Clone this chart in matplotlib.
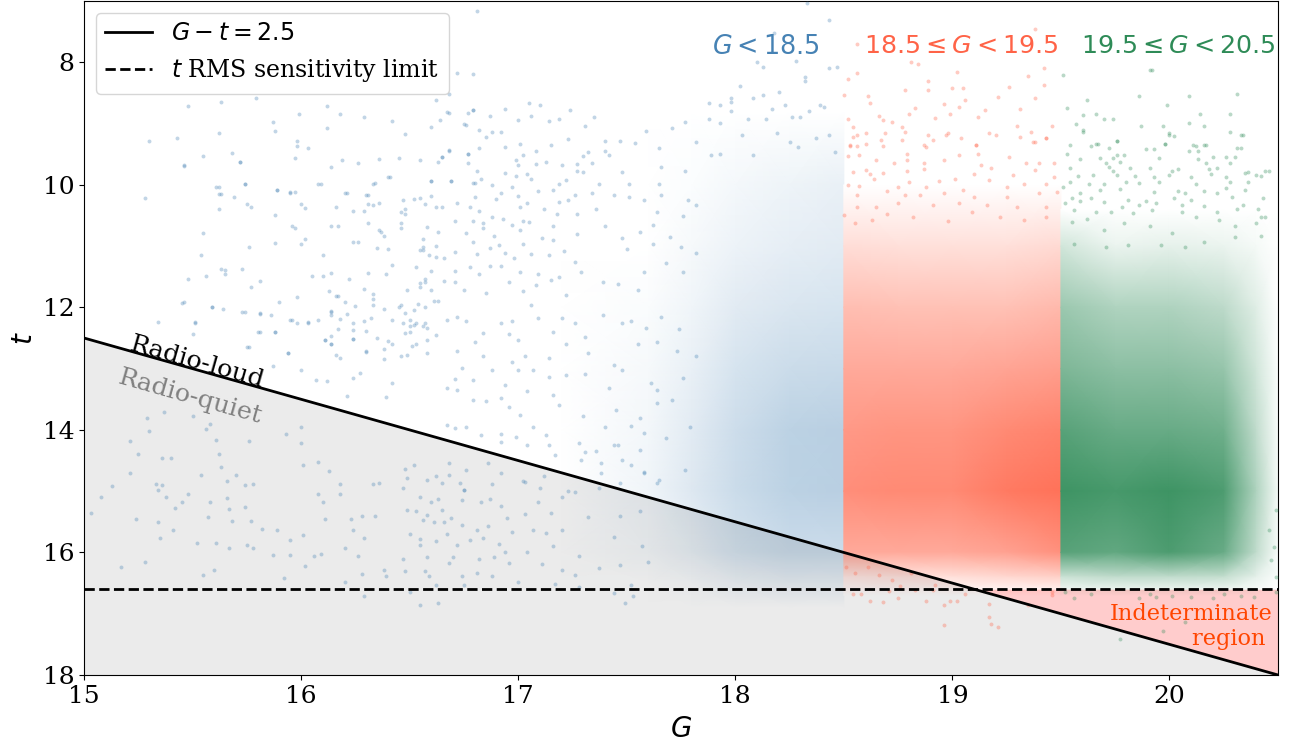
#!/usr/bin/python3
import matplotlib
matplotlib.use("Agg")
import matplotlib.pyplot as plt
from matplotlib.colors import LinearSegmentedColormap
import numpy as np

plt.rcParams['font.family'] = 'DejaVu Serif'
plt.rcParams['mathtext.fontset'] = 'dejavusans'

BLUE = '#4682b4'
RED = '#ff6347'
GREEN = '#2e8b57'

# limits of the two reference lines
line_G = [15, 20.5]
line_offset = 2.5
rms_limit = 16.6

# single points (only the sparse ones can be told apart)
blue_G = [15.03, 15.08, 15.13, 15.21, 15.21, 15.25, 15.29, 15.30, 15.37, 15.50, 15.58, 15.56, 15.61, 15.76, 15.62, 15.63,
          15.36, 15.40, 15.54, 15.33, 15.36, 15.34, 15.38, 15.48, 15.45, 15.42, 15.24, 15.34, 15.41, 15.35, 15.17, 15.28,
          15.55, 15.60, 15.52, 15.61, 15.67, 15.75, 15.78, 15.70, 15.66, 15.74, 15.78, 15.66, 15.58, 15.67, 15.74, 15.57,
          15.68, 15.77, 15.82, 15.89, 15.95, 16.01, 15.87, 15.95, 16.06, 16.02, 15.92, 16.28, 16.29, 16.20, 16.38, 16.39,
          15.93, 16.00, 16.00, 16.01, 16.08, 16.13, 16.18, 16.33, 16.36, 16.08, 16.10, 16.18, 16.23, 16.28, 16.34, 16.11,
          16.24, 16.29, 16.20, 16.26, 16.09, 15.34, 15.51, 15.46, 15.59, 15.74, 15.81, 15.81, 15.88, 15.94, 15.76, 15.87,
          16.00, 15.96, 16.03, 16.14, 16.11, 16.14, 16.07, 16.12, 16.21, 16.24, 16.27, 16.39, 16.42, 16.24, 16.38, 16.18,
          16.30, 15.30, 15.43, 15.55, 15.46, 15.48, 15.63, 15.79, 15.62, 15.68, 15.72, 15.87, 15.88, 15.99, 16.12, 16.18,
          16.29, 16.42, 16.12, 16.48, 15.98, 15.98, 16.03, 15.97, 16.19, 16.14, 16.26, 16.36, 16.45, 16.55, 16.41, 16.34,
          16.60, 16.69, 16.09, 15.74, 15.62, 15.63, 15.89, 15.95, 16.21, 16.31, 15.28, 16.81, 16.79, 16.72, 16.68, 16.62,
          16.67, 16.77, 16.79, 16.60, 16.64, 16.75, 16.68, 16.77, 16.65, 16.63, 16.80, 18.33, 18.43, 18.18, 18.10, 18.13,
          18.28, 18.43, 18.47, 18.32, 18.32, 18.02, 18.20, 18.13, 17.98, 17.98, 17.88, 18.08, 17.93, 17.98, 18.39, 18.41,
          18.17, 18.23, 18.14, 18.26, 18.30, 18.34, 18.06, 17.88, 17.93, 18.19, 18.37, 18.03, 18.25, 18.43, 18.46, 18.29,
          17.93, 17.89, 18.08,
          # G 16.65 - 17.8, t 8.7 - 11.8
          16.68, 16.79, 16.94, 16.87, 17.05, 17.10, 16.76, 16.82, 16.88, 16.92, 16.85, 17.00, 17.06, 17.14, 17.19, 17.24,
          17.31, 17.35, 16.68, 16.65, 16.77, 16.82, 16.77, 16.81, 16.94, 17.01, 17.02, 17.08, 17.15, 17.23, 17.30, 17.32,
          16.99, 17.00, 17.08, 17.13, 17.20, 17.27, 17.34, 17.40, 17.42, 17.40, 17.47, 17.54, 17.59, 17.65, 17.71, 17.77,
          17.82, 16.69, 16.79, 16.83, 16.88, 16.94, 16.99, 17.04, 17.06, 17.22, 17.19, 17.27, 17.30, 17.37, 17.48, 17.51,
          17.65, 17.66, 17.77, 16.80, 16.72, 16.65, 16.78, 16.82, 16.90, 16.92, 16.97, 17.00, 17.01, 17.04, 17.09, 17.16,
          17.12, 17.19, 17.23, 17.26, 17.34, 17.44, 17.51, 17.58, 17.66, 16.71, 16.79, 16.88, 16.93, 16.84, 16.84, 16.97,
          17.02, 17.05, 17.01, 17.16, 17.18, 17.27, 17.36, 16.76, 16.89, 16.79, 16.87, 16.91, 17.02, 17.11, 17.16, 17.27,
          17.21, 16.71, 16.66, 16.81, 16.94, 16.98, 17.06, 17.14, 17.26, 16.78, 16.71, 16.82, 16.87, 16.92, 17.01, 17.09,
          17.19, 17.29, 16.66, 16.71, 16.75, 16.85, 16.96, 17.02, 17.08, 17.15, 17.22, 17.39, 17.46, 17.55, 17.58, 17.68,
          17.76, 17.62, 17.56, 17.76, 17.48, 17.40, 17.70, 17.50, 17.62, 17.75, 17.82, 17.64, 17.78, 17.82,
          # G 16.65 - 17.8, t 12 - 15
          16.67, 16.72, 16.76, 16.84, 16.92, 16.97, 17.06, 17.09, 17.16, 17.20, 17.26, 17.31, 17.39, 17.48, 17.52, 17.59,
          17.66, 17.74, 16.72, 16.80, 16.84, 16.96, 17.00, 16.97, 17.03, 17.14, 17.22, 17.32, 17.44, 17.55, 17.64, 17.73,
          17.82, 16.74, 16.79, 16.71, 16.67, 16.72, 16.88, 16.79, 16.85, 16.92, 16.94, 17.04, 17.00, 17.07, 17.14, 17.22,
          17.31, 17.42, 17.48, 17.61, 17.64, 17.76, 17.16, 17.19, 17.30, 16.96, 17.01, 17.07, 16.67, 16.71, 16.76, 16.83,
          16.92, 16.99, 17.13, 17.14, 17.28, 17.40, 17.45, 17.52, 17.58, 17.68, 17.79, 17.56, 17.64, 17.71, 17.36, 17.48,
          17.58, 17.77, 17.44, 17.65, 16.68, 16.76, 16.86, 16.92, 16.88, 17.02, 16.75, 17.10, 17.23,
          # G 15.45 - 16.65, t 9.6 - 12.8
          15.46, 15.72, 15.61, 15.74, 15.62, 15.69, 15.62, 15.75, 15.77, 15.89, 15.95, 15.97, 16.08, 16.00, 16.02, 15.88,
          15.55, 15.96, 15.97, 15.88, 15.76, 15.54, 16.02, 16.00, 16.10, 15.63, 15.65, 15.65, 15.73, 15.48, 15.56, 15.81,
          15.77, 16.05, 16.10, 16.14, 16.22, 15.98, 15.90, 15.45, 15.59, 15.64, 15.73, 15.81, 15.86, 16.13, 16.16, 16.17,
          16.20, 16.25, 16.14, 16.14, 16.21, 16.18, 15.95, 15.98, 16.03, 16.08, 15.51, 15.50, 15.80, 15.88, 15.75, 15.94,
          16.11, 16.14, 16.14, 16.17, 16.24, 16.24, 16.30, 16.24, 16.29, 16.32, 16.38, 16.33, 16.33, 16.33, 16.29, 16.31,
          16.39, 16.42, 16.35, 16.40, 16.24, 16.26, 16.14, 16.17, 16.31, 16.36, 16.37, 16.38, 16.16, 16.24, 16.29, 16.31,
          16.33, 16.36, 16.20, 16.30, 16.33, 16.40, 16.47, 16.52, 16.55, 16.57, 16.60, 16.60, 16.62, 16.46, 16.48, 16.48,
          16.46, 16.46, 16.58, 16.63, 16.56, 16.56, 16.55, 16.56, 16.62, 16.59, 16.62, 16.53, 16.60, 16.57, 16.55, 16.57,
          16.55, 16.60, 16.49, 16.61, 16.63, 16.54, 16.46, 16.45, 16.57, 16.52, 16.48, 16.42, 16.47, 16.50, 16.50, 16.52,
          16.53, 16.57, 16.56, 16.58, 16.48, 16.50, 16.58, 16.62, 16.35, 16.40, 16.42, 16.38, 16.30, 16.16, 16.51, 16.53,
          16.46, 16.49, 16.58,
          # G 16.45 - 17.65, t 14.2 - 16.9
          16.48, 16.52, 16.49, 16.47, 16.58, 16.62, 16.65, 16.68, 16.73, 16.75, 16.55, 16.60, 16.63, 16.49, 16.53, 16.58,
          16.65, 16.69, 16.74, 16.83, 16.87, 16.92, 16.56, 16.61, 16.66, 16.74, 16.81, 16.86, 16.95, 17.03, 16.50, 16.55,
          16.62, 16.67, 16.72, 16.78, 16.84, 16.91, 16.97, 17.07, 17.13, 17.20, 16.55, 16.58, 16.70, 16.82, 16.89, 16.94,
          17.04, 17.16, 17.28, 16.47, 16.48, 16.57, 16.59, 16.68, 16.74, 16.81, 16.88, 16.96, 17.11, 17.20, 17.26, 17.37,
          17.47, 17.57, 17.60, 17.47, 17.56, 17.44, 17.32, 17.37, 17.15, 17.20, 17.09, 17.03, 17.12, 17.26, 16.55, 16.63,
          17.49, 17.53, 17.44, 16.50, 16.62, 16.75, 17.00, 17.17, 17.28, 17.52, 16.92, 17.04, 17.17, 17.29, 17.38, 17.46,
          17.56, 17.52, 17.58, 17.64, 17.38, 17.47, 17.31]
blue_t = [15.36, 15.10, 14.92, 14.70, 14.18, 14.39, 13.80, 14.02, 13.71, 13.78, 13.90, 13.98, 14.16, 14.18, 14.39, 14.61,
          14.46, 14.46, 14.74, 14.88, 14.90, 14.98, 15.09, 15.04, 15.17, 15.28, 15.46, 15.50, 15.63, 15.76, 16.24, 16.16,
          16.36, 16.28, 15.84, 15.84, 15.92, 15.88, 15.92, 14.73, 14.84, 14.90, 14.88, 15.11, 15.17, 15.29, 15.26, 15.42,
          15.48, 15.48, 15.61, 15.63, 15.79, 15.72, 16.04, 16.04, 16.06, 16.22, 16.42, 16.35, 16.71, 16.48, 16.28, 16.38,
          14.06, 13.95, 14.22, 14.57, 14.53, 14.67, 14.89, 14.89, 14.86, 15.05, 15.18, 15.05, 15.46, 15.41, 15.40, 15.46,
          15.63, 15.76, 15.92, 16.06, 16.03, 12.24, 12.24, 11.92, 12.00, 12.08, 12.10, 12.40, 12.40, 12.74, 12.64, 12.95,
          13.02, 12.20, 12.24, 12.07, 12.53, 12.59, 13.18, 13.20, 13.45, 13.16, 13.07, 13.47, 13.23, 12.52, 12.85, 12.83,
          12.72, 9.29, 9.23, 9.53, 9.68, 8.71, 8.65, 8.59, 9.15, 9.48, 9.63, 8.97, 9.12, 8.85, 8.71, 8.85,
          8.90, 8.96, 9.07, 9.17, 9.29, 9.37, 9.40, 9.57, 9.59, 9.71, 9.64, 9.58, 9.57, 9.59, 9.88, 9.97,
          9.93, 9.93, 9.98, 9.99, 10.03, 10.15, 10.09, 10.12, 10.14, 10.17, 10.22, 7.16, 8.19, 8.17, 8.52, 8.62,
          8.81, 8.82, 8.78, 9.05, 8.94, 9.01, 9.43, 9.49, 9.55, 9.62, 9.97, 7.03, 7.31, 7.53, 8.00, 8.08,
          7.98, 8.10, 8.07, 8.24, 8.31, 8.38, 8.49, 8.54, 8.59, 8.65, 8.67, 8.59, 8.70, 8.80, 8.70, 8.73,
          8.77, 8.69, 8.92, 8.89, 8.90, 8.80, 8.92, 8.93, 8.99, 9.15, 9.23, 9.19, 9.30, 9.19, 9.46, 9.38,
          9.50, 9.52, 9.52,
          8.82, 8.78, 8.76, 8.88, 8.66, 8.69, 9.02, 9.10, 9.14, 9.13, 9.22, 8.95, 8.88, 8.96, 8.93, 8.78,
          9.04, 8.90, 9.44, 9.55, 9.49, 9.40, 9.64, 9.77, 9.39, 9.34, 9.52, 9.44, 9.35, 9.26, 9.53, 9.47,
          9.59, 9.67, 9.66, 9.62, 9.67, 9.66, 9.65, 9.45, 9.52, 9.29, 9.28, 9.31, 9.12, 9.40, 9.08, 8.97,
          9.30, 9.93, 9.97, 9.91, 10.01, 9.80, 9.85, 9.83, 9.91, 9.92, 9.98, 9.77, 9.79, 9.99, 9.79, 9.99,
          9.99, 9.71, 9.78, 10.20, 10.29, 10.36, 10.36, 10.43, 10.23, 10.13, 10.04, 10.18, 10.36, 10.29, 10.10, 10.09,
          10.39, 10.28, 10.25, 10.16, 10.13, 10.17, 10.20, 10.25, 10.17, 10.59, 10.59, 10.52, 10.55, 10.63, 10.70, 10.66,
          10.59, 10.61, 10.73, 10.67, 10.47, 10.48, 10.40, 10.79, 10.83, 10.94, 11.03, 10.99, 10.97, 10.86, 10.90, 10.81,
          11.08, 11.09, 11.20, 11.13, 11.12, 11.19, 11.13, 11.14, 11.26, 11.34, 11.40, 11.46, 11.32, 11.32, 11.43, 11.45,
          11.51, 11.42, 11.57, 11.59, 11.72, 11.77, 11.58, 11.74, 11.64, 11.55, 11.80, 11.58, 11.62, 11.71, 11.42, 11.28,
          11.42, 10.66, 10.77, 10.51, 10.86, 10.67, 10.85, 11.04, 10.96, 11.01, 11.12, 10.44, 10.25, 10.33,
          12.21, 12.15, 12.23, 12.42, 12.26, 12.22, 11.96, 12.18, 12.41, 12.18, 12.26, 12.48, 12.12, 12.25, 12.23, 12.34,
          12.15, 12.36, 12.72, 12.56, 12.80, 12.43, 12.54, 12.89, 12.80, 12.83, 12.59, 12.75, 12.94, 12.59, 12.56, 12.72,
          12.80, 12.99, 13.18, 13.17, 13.32, 13.35, 13.03, 13.51, 13.53, 13.48, 13.27, 13.37, 13.03, 13.03, 13.14, 13.10,
          13.09, 13.32, 13.03, 13.24, 13.35, 13.16, 13.43, 13.59, 13.78, 13.62, 13.76, 13.95, 13.92, 13.97, 13.95, 14.08,
          14.07, 14.12, 14.08, 14.24, 14.22, 13.96, 13.67, 13.93, 14.05, 14.14, 13.95, 13.81, 13.56, 13.51, 14.34, 14.49,
          14.68, 14.65, 14.24, 14.81, 14.54, 14.65, 14.54, 14.71, 14.88, 14.84, 14.98, 14.95, 15.00,
          9.69, 9.63, 10.03, 9.99, 10.15, 10.20, 10.40, 10.32, 10.37, 10.09, 10.13, 10.12, 9.98, 10.31, 10.38, 10.50,
          10.78, 10.68, 10.71, 10.95, 11.02, 11.14, 10.89, 10.97, 11.14, 11.38, 11.39, 11.45, 11.37, 11.53, 11.48, 11.57,
          11.67, 11.49, 11.49, 11.44, 11.54, 11.83, 11.92, 11.93, 12.00, 12.02, 12.08, 12.11, 12.12, 11.73, 11.82, 11.82,
          11.91, 11.97, 12.06, 12.12, 12.11, 12.19, 12.20, 12.25, 12.25, 12.20, 12.25, 12.43, 12.41, 12.41, 12.64, 12.75,
          12.53, 12.47, 12.60, 12.36, 12.37, 12.51, 12.39, 12.26, 12.22, 12.17, 12.02, 11.87, 11.79, 11.96, 11.70, 11.44,
          11.45, 11.31, 11.03, 11.04, 10.93, 10.94, 10.68, 10.67, 10.62, 10.73, 10.77, 10.83, 10.36, 10.42, 10.43, 10.31,
          10.33, 10.30, 10.14, 10.16, 9.98, 9.88, 10.24, 10.23, 10.21, 10.32, 9.93, 10.19, 10.37, 10.45, 10.40, 10.48,
          10.62, 10.70, 10.69, 10.77, 10.88, 11.01, 11.06, 11.07, 11.00, 11.14, 11.17, 11.34, 11.41, 11.53, 11.60, 11.59,
          11.67, 11.71, 11.72, 11.89, 11.90, 11.95, 11.96, 11.99, 12.00, 12.05, 12.10, 12.21, 12.26, 12.21, 12.31, 12.28,
          12.26, 12.26, 12.30, 12.34, 12.42, 12.40, 12.53, 12.45, 12.50, 12.55, 12.60, 12.68, 12.73, 12.78, 12.63, 12.60,
          12.79, 12.78, 12.74,
          14.64, 14.57, 14.79, 14.95, 14.81, 14.76, 14.87, 14.74, 14.87, 14.98, 15.09, 15.17, 15.12, 15.31, 15.32, 15.39,
          15.31, 15.43, 15.14, 15.17, 15.12, 15.25, 15.47, 15.51, 15.50, 15.56, 15.63, 15.57, 15.44, 15.37, 15.70, 15.78,
          15.81, 15.70, 15.88, 15.80, 15.77, 15.87, 15.66, 15.64, 15.69, 15.63, 15.88, 16.08, 16.07, 16.11, 16.07, 15.99,
          16.00, 15.89, 16.06, 16.10, 16.30, 16.30, 16.38, 16.17, 16.38, 16.33, 16.38, 16.18, 16.19, 16.29, 16.37, 16.26,
          16.20, 15.90, 16.15, 15.41, 15.32, 15.74, 15.42, 14.95, 15.36, 15.09, 15.17, 14.85, 14.75, 15.01, 16.86, 16.83,
          16.83, 16.71, 16.66, 16.64, 16.53, 16.53, 16.49, 16.51, 16.56, 16.53, 14.19, 14.25, 14.41, 14.49, 14.54, 14.25,
          14.33, 14.57, 14.71, 14.87, 14.71, 14.87, 14.36]

red_G = [19.38, 18.56, 18.81, 18.84, 19.02, 19.42, 18.56, 18.52, 18.89, 19.35, 19.42, 18.78, 18.89, 19.00, 19.05, 19.26,
         19.38, 18.50, 18.61, 18.62, 19.21, 19.06, 18.96, 19.03, 18.83, 19.31, 19.15, 18.66, 18.80, 18.92, 18.99, 19.12,
         18.52, 18.68, 18.72, 19.46, 19.30, 19.36, 19.20, 18.98, 18.54, 18.56, 18.77, 19.43, 19.38, 19.11, 18.91, 18.68,
         18.53, 18.56, 18.88, 18.79, 18.96, 19.17, 19.18, 19.21, 19.17, 18.96, 18.99, 19.02, 19.06, 18.62, 18.68, 18.75,
         18.88, 18.54, 18.58, 18.71, 18.83, 18.91, 19.35, 19.46, 19.46, 18.51, 18.55, 18.61, 18.66, 18.72, 18.76, 18.81,
         18.92,
         # t 9.1 - 10.6
         18.60, 18.69, 18.78, 18.54, 18.53, 18.60, 18.67, 18.77, 18.87, 18.89, 18.97, 19.04, 19.11, 19.17, 19.31, 19.37,
         19.43, 18.52, 18.57, 18.65, 18.73, 18.79, 18.87, 18.96, 19.03, 19.12, 19.13, 19.26, 19.34, 19.40, 19.47, 18.54,
         18.60, 18.62, 18.68, 18.79, 18.87, 18.94, 19.01, 19.10, 19.18, 19.28, 19.38, 19.47, 18.52, 18.57, 18.64, 18.75,
         18.80, 18.88, 19.05, 19.17, 19.25, 19.33, 19.43, 18.56, 18.70, 18.78, 18.85, 18.96, 19.10, 19.25, 19.40, 19.48,
         18.56, 18.65, 18.75, 18.91, 19.03, 19.16, 19.30, 19.43, 18.50, 18.55, 18.63, 18.70, 18.82, 18.98, 19.09, 19.22,
         19.33, 19.43]
red_t = [7.46, 7.70, 7.99, 8.03, 8.16, 8.10, 8.17, 8.27, 8.31, 8.22, 8.37, 8.45, 8.46, 8.42, 8.42, 8.41,
         8.59, 8.53, 8.55, 8.66, 8.57, 8.62, 8.68, 8.73, 8.74, 8.76, 8.78, 8.87, 8.85, 8.91, 8.85, 8.90,
         8.92, 8.95, 8.97, 9.04, 9.04, 9.14, 9.19, 9.16, 9.06, 9.19, 9.06, 9.23, 9.30, 9.35, 9.27, 9.37,
         9.36, 9.36, 9.39, 9.50, 17.19, 17.05, 17.16, 17.22, 16.84, 16.86, 16.79, 16.80, 16.68, 16.79, 16.81, 16.74,
         16.80, 16.68, 16.68, 16.63, 16.62, 16.62, 16.85, 16.70, 16.65, 16.24, 16.34, 16.23, 16.37, 16.45, 16.55, 16.34,
         16.53,
         9.15, 9.15, 9.14, 9.22, 9.35, 9.33, 9.27, 9.27, 9.35, 9.19, 9.19, 9.24, 9.35, 9.16, 9.22, 9.30,
         9.23, 9.53, 9.52, 9.60, 9.65, 9.60, 9.65, 9.60, 9.52, 9.50, 9.68, 9.54, 9.65, 9.65, 9.65, 9.79,
         9.76, 9.82, 9.81, 9.77, 9.75, 9.93, 9.90, 9.82, 9.73, 9.84, 9.76, 9.87, 10.00, 10.02, 9.90, 10.03,
         9.95, 10.03, 10.08, 9.92, 10.03, 9.98, 9.98, 10.17, 10.10, 10.17, 10.17, 10.14, 10.20, 10.20, 10.14, 10.11,
         10.36, 10.37, 10.30, 10.33, 10.29, 10.33, 10.36, 10.36, 10.50, 10.63, 10.57, 10.47, 10.53, 10.59, 10.44, 10.53,
         10.58, 10.53]

green_G = [19.91, 19.92, 19.51, 19.62, 19.53, 19.86, 19.99, 20.09, 20.31, 20.14, 20.28, 19.60, 19.66, 19.74, 19.70, 19.57,
           19.60, 19.87, 19.97, 20.09, 20.16, 20.00, 20.33, 19.76, 19.66, 19.98, 20.11, 20.16, 20.31, 20.44, 20.35, 20.40,
           20.42, 19.77, 19.97, 19.64, 19.56, 19.52, 19.86, 19.94, 20.01, 20.07, 20.10, 20.20, 20.25, 20.33, 20.39, 20.49,
           19.91, 20.49, 20.46, 20.48, 20.47, 20.49,
           # t 9.1 - 11
           19.60, 20.00, 20.02, 20.28, 20.34, 19.76, 19.98, 19.54, 19.64, 19.67, 19.72, 19.89, 19.93, 20.12, 20.17, 20.33,
           20.09, 20.13, 19.53, 19.59, 19.68, 19.76, 19.79, 19.74, 19.71, 19.72, 19.77, 19.95, 20.13, 20.20, 20.17, 20.26,
           20.30, 20.28, 19.54, 19.74, 19.82, 19.91, 20.04, 20.01, 20.18, 20.22, 20.46, 20.36, 20.42, 19.58, 19.65, 19.76,
           19.84, 19.93, 20.00, 20.10, 20.19, 20.26, 19.54, 19.63, 19.70, 19.80, 19.86, 19.95, 20.12, 20.28, 20.36, 19.51,
           19.59, 19.68, 19.77, 19.93, 20.04, 20.07, 20.16, 20.22, 20.26, 20.35, 20.43, 19.55, 19.64, 19.81, 19.89, 20.02,
           20.10, 20.29, 19.52, 19.59, 19.70, 19.78, 19.86, 19.94, 20.06, 20.16, 20.34, 20.41, 20.44, 19.56, 19.66, 19.73,
           19.83, 19.92, 20.06, 20.22, 20.31, 19.55, 19.62, 19.70, 19.79, 19.91, 20.01, 20.12, 20.23, 20.30, 20.40, 20.42,
           19.56, 19.71, 19.81, 19.96, 20.07, 20.16, 20.30]
green_t = [8.12, 8.12, 8.21, 8.61, 8.74, 8.55, 8.69, 8.55, 8.52, 8.85, 8.84, 8.86, 8.85, 8.93, 8.93, 9.01,
           9.10, 9.04, 9.04, 8.99, 9.04, 9.19, 9.19, 9.28, 9.34, 9.33, 9.35, 9.35, 9.40, 9.77, 9.80, 9.84,
           10.53, 17.42, 17.28, 16.67, 16.75, 16.65, 16.75, 16.72, 16.71, 17.13, 16.72, 16.75, 16.67, 16.71, 16.73, 16.65,
           16.67, 15.30, 15.64, 15.91, 16.13, 16.40,
           9.13, 9.16, 9.20, 9.13, 9.19, 9.28, 9.34, 9.35, 9.36, 9.34, 9.40, 9.42, 9.42, 9.36, 9.35, 9.40,
           9.45, 9.45, 9.50, 9.58, 9.57, 9.51, 9.52, 9.57, 9.64, 9.71, 9.63, 9.57, 9.58, 9.55, 9.64, 9.55,
           9.54, 9.64, 9.73, 9.77, 9.73, 9.72, 9.75, 9.78, 9.75, 9.73, 9.77, 9.79, 9.85, 9.85, 9.84, 9.84,
           9.86, 9.87, 9.84, 9.87, 9.82, 9.87, 9.95, 9.99, 9.98, 9.96, 9.97, 9.96, 9.98, 9.95, 9.96, 10.04,
           10.14, 10.09, 10.07, 10.11, 10.10, 10.13, 10.10, 10.14, 10.06, 10.08, 10.22, 10.22, 10.22, 10.25, 10.26, 10.22,
           10.24, 10.20, 10.30, 10.27, 10.28, 10.37, 10.33, 10.29, 10.33, 10.35, 10.33, 10.40, 10.52, 10.41, 10.44, 10.44,
           10.46, 10.41, 10.44, 10.44, 10.39, 10.60, 10.55, 10.74, 10.62, 10.68, 10.79, 10.53, 10.58, 10.68, 10.63, 10.84,
           10.96, 11.01, 10.98, 10.98, 11.01, 10.93, 10.85]

# the crowded parts: how much of the area the dots cover, estimated by eye
blue_wash_G = [17.2, 17.6, 17.8, 18, 18.25, 18.5]
blue_wash_t = [8.8, 10, 11, 12, 13, 14, 15, 16, 16.5, 16.9]
blue_wash = [[0, 0, 0, 0, 0, 0],
             [0, 0, .02, .06, .09, .12],
             [0, 0, .05, .10, .14, .16],
             [0, .03, .08, .16, .20, .22],
             [0, .05, .12, .22, .28, .30],
             [0, .07, .16, .27, .36, .38],
             [0, .08, .18, .28, .36, .38],
             [0, .05, .12, .22, .28, .28],
             [0, 0, .03, .08, .12, .12],
             [0, 0, 0, 0, 0, 0]]

red_wash_G = [18.5, 18.75, 19, 19.25, 19.5]
red_wash_t = [10.0, 11, 12, 13, 14, 15, 16, 16.4, 16.7]
red_wash = [[0, 0, 0, 0, 0],
            [.22, .20, .20, .20, .24],
            [.42, .40, .40, .40, .45],
            [.55, .55, .55, .58, .62],
            [.65, .68, .68, .75, .80],
            [.72, .75, .75, .85, .90],
            [.55, .55, .55, .60, .70],
            [.15, .18, .20, .25, .30],
            [0, 0, 0, 0, 0]]

green_wash_G = [19.5, 19.75, 20, 20.25, 20.4, 20.5]
green_wash_t = [10.4, 11, 12, 13, 14, 15, 16, 16.4, 16.7]
green_wash = [[0, 0, 0, 0, 0, 0],
              [.22, .10, .12, .10, .05, 0],
              [.48, .38, .38, .32, .15, 0],
              [.62, .55, .55, .50, .22, .02],
              [.80, .72, .72, .68, .30, .03],
              [.92, .88, .92, .85, .38, .05],
              [.80, .75, .85, .72, .30, .03],
              [.25, .30, .30, .28, .12, .02],
              [0, 0, 0, 0, 0, 0]]

fig = plt.figure(figsize=(12.93, 7.43), dpi=100)
ax = fig.add_axes([84 / 1293, 68 / 743, 1194 / 1293, 674 / 743])

# density washes, opaque so that the triangles of the mesh do not show
for wash_G, wash_t, wash, c in [(blue_wash_G, blue_wash_t, blue_wash, BLUE),
                                (red_wash_G, red_wash_t, red_wash, RED),
                                (green_wash_G, green_wash_t, green_wash, GREEN)]:
    cmap = LinearSegmentedColormap.from_list('wash', ['white', c])
    ax.pcolormesh(wash_G, wash_t, np.array(wash), shading='gouraud', cmap=cmap, vmin=0, vmax=1, zorder=1)

# regions
G = np.array(line_G)
t = G - line_offset
ax.fill_between(G, t, 18, color='black', alpha=0.08, lw=0, zorder=2)
G_cross = rms_limit + line_offset
ax.fill_between([G_cross, G[1]], [rms_limit, rms_limit], [rms_limit, t[1]], color='red', alpha=0.2, lw=0, zorder=2)

# single dots
ax.scatter(blue_G, blue_t, s=8, color=BLUE, alpha=0.33, lw=0, zorder=3)
ax.scatter(red_G, red_t, s=8, color=RED, alpha=0.33, lw=0, zorder=3)
ax.scatter(green_G, green_t, s=8, color=GREEN, alpha=0.33, lw=0, zorder=3)

# lines
ax.plot(G, t, color='black', lw=2, label=r'$G-t=2.5$', zorder=4)
ax.plot(G, [rms_limit, rms_limit], color='black', lw=2, ls='--', label=r'$t$ RMS sensitivity limit', zorder=4)

ax.set_xlim(15, 20.5)
ax.set_ylim(18, 7)
ax.set_yticks([8, 10, 12, 14, 16, 18])
ax.tick_params(labelsize=18)
ax.set_xlabel(r'$G$', fontsize=20, labelpad=6)
ax.set_ylabel(r'$t$', fontsize=20, labelpad=3)

ax.legend(loc='upper left', fontsize=17)

# labels
ax.text(18.14, 7.75, r'$G<18.5$', color=BLUE, fontsize=18.4, ha='center', va='center')
ax.text(19.04, 7.75, r'$18.5\leq G<19.5$', color=RED, fontsize=18.3, ha='center', va='center')
ax.text(20.04, 7.75, r'$19.5\leq G<20.5$', color=GREEN, fontsize=18.3, ha='center', va='center')
ax.text(15.52, 12.9, 'Radio-loud', color='black', fontsize=18.2, rotation=-15.8, ha='center', va='center')
ax.text(15.49, 13.47, 'Radio-quiet', color='gray', fontsize=18.2, rotation=-15.8, ha='center', va='center')
ax.text(20.475, 17.21, 'Indeterminate\nregion ', color='orangered', fontsize=16.2, ha='right', va='center')

fig.savefig('out.png', dpi=100)
